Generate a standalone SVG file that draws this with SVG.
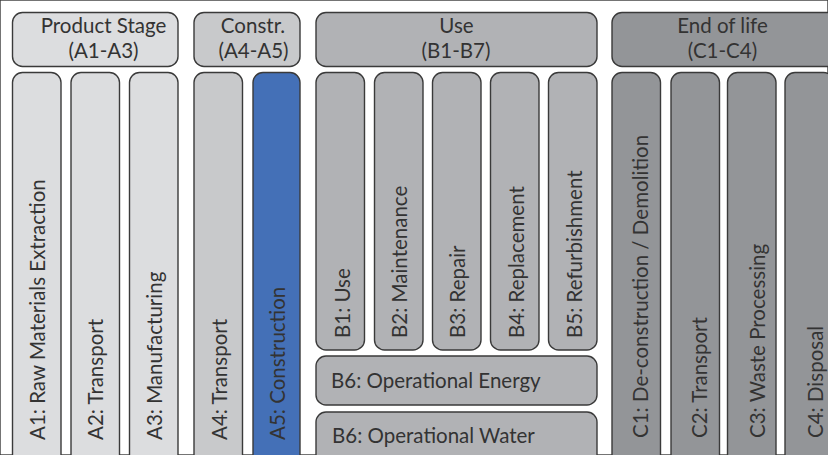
<svg xmlns="http://www.w3.org/2000/svg" width="828" height="455" viewBox="0 0 828 455">
<style>
rect{stroke:#3a3a3a;stroke-width:1.4}
.p{fill:#dcdddf}
.c{fill:#c8c9cb}
.b{fill:#4470b7}
.u{fill:#b1b2b5}
.e{fill:#939598}
text{font-family:Lato,"Open Sans","Liberation Sans",sans-serif;font-size:20.5px;fill:#333}
.h{text-anchor:middle}
</style>
<rect width="828" height="455" fill="#fff" stroke="none"/>
<g id="hdr-product"><rect class="p" x="12.5" y="12.5" width="165.5" height="54" rx="10"/><text class="h" x="103.5" y="33">Product Stage</text><text class="h" x="103.5" y="58">(A1-A3)</text></g>
<g id="hdr-constr"><rect class="c" x="194" y="12.5" width="106" height="54" rx="10"/><text class="h" x="253" y="33">Constr.</text><text class="h" x="253.5" y="58">(A4-A5)</text></g>
<g id="hdr-use"><rect class="u" x="316" y="12.5" width="281" height="54" rx="10"/><text class="h" x="456.5" y="33">Use</text><text class="h" x="456" y="58">(B1-B7)</text></g>
<g id="hdr-eol"><rect class="e" x="612" y="12.5" width="240" height="54" rx="10"/><text class="h" x="722.5" y="33">End of life</text><text class="h" x="722.5" y="58">(C1-C4)</text></g>

<g id="A1"><rect class="p" x="12.5" y="72.5" width="48.5" height="400" rx="10"/><text transform="translate(45,440) rotate(-90)">A1: Raw Materials Extraction</text></g>
<g id="A2"><rect class="p" x="71" y="72.5" width="48.5" height="400" rx="10"/><text transform="translate(103,440) rotate(-90)">A2: Transport</text></g>
<g id="A3"><rect class="p" x="129.5" y="72.5" width="48.5" height="400" rx="10"/><text transform="translate(162,440) rotate(-90)">A3: Manufacturing</text></g>
<g id="A4"><rect class="c" x="194" y="72.5" width="48.5" height="400" rx="10"/><text transform="translate(227,440) rotate(-90)">A4: Transport</text></g>
<g id="A5"><rect class="b" x="253" y="72.5" width="47" height="400" rx="10"/><text transform="translate(285,440) rotate(-90)">A5: Construction</text></g>

<g id="B1"><rect class="u" x="316" y="72.5" width="48.5" height="277.5" rx="10"/><text transform="translate(350,338) rotate(-90)">B1: Use</text></g>
<g id="B2"><rect class="u" x="374.5" y="72.5" width="48.5" height="277.5" rx="10"/><text transform="translate(407,338) rotate(-90)">B2: Maintenance</text></g>
<g id="B3"><rect class="u" x="432.5" y="72.5" width="48.5" height="277.5" rx="10"/><text transform="translate(465,338) rotate(-90)">B3: Repair</text></g>
<g id="B4"><rect class="u" x="490.5" y="72.5" width="48.5" height="277.5" rx="10"/><text transform="translate(524,338) rotate(-90)">B4: Replacement</text></g>
<g id="B5"><rect class="u" x="548.5" y="72.5" width="48.5" height="277.5" rx="10"/><text transform="translate(582,338) rotate(-90)">B5: Refurbishment</text></g>
<g id="B6-energy"><rect class="u" x="316" y="356" width="281" height="49" rx="10"/><text x="331" y="388">B6: Operational Energy</text></g>
<g id="B6-water"><rect class="u" x="316" y="412" width="281" height="80" rx="10"/><text x="332" y="443">B6: Operational Water</text></g>

<g id="C1"><rect class="e" x="612" y="72.5" width="48.5" height="400" rx="10"/><text transform="translate(648,438) rotate(-90)">C1: De-construction / Demolition</text></g>
<g id="C2"><rect class="e" x="671" y="72.5" width="48.5" height="400" rx="10"/><text transform="translate(707,438) rotate(-90)">C2: Transport</text></g>
<g id="C3"><rect class="e" x="727.5" y="72.5" width="48.5" height="400" rx="10"/><text transform="translate(765,438) rotate(-90)">C3: Waste Processing</text></g>
<g id="C4"><rect class="e" x="785" y="72.5" width="48.5" height="400" rx="10"/><text transform="translate(823,438) rotate(-90)">C4: Disposal</text></g>
<g id="connectors"/>
</svg>
